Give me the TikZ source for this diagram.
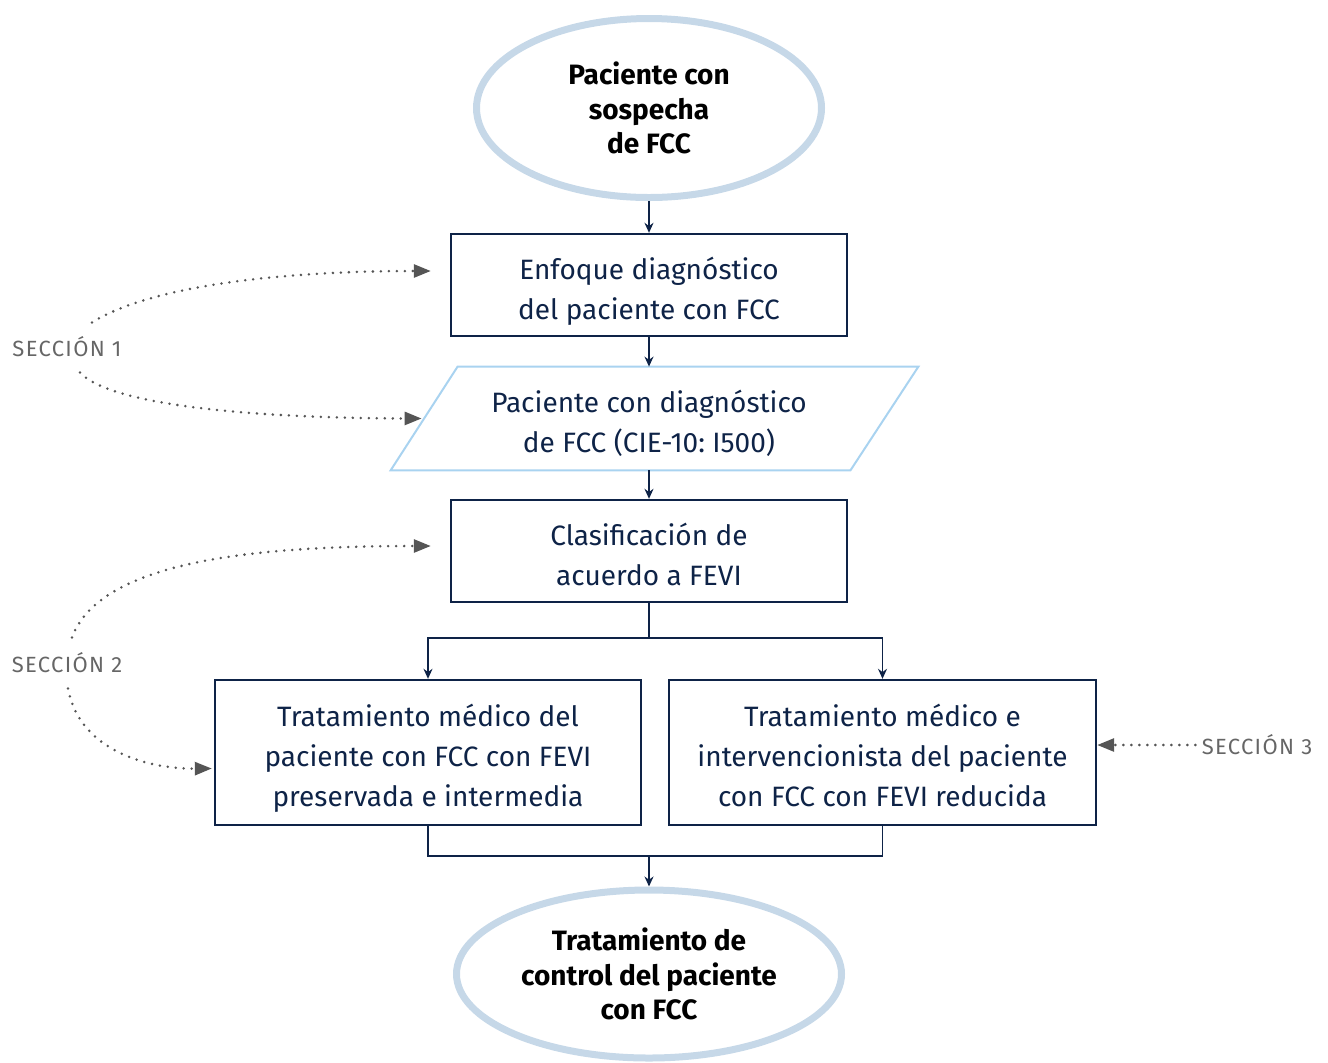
\documentclass[tikz,border=0pt]{standalone}
\usepackage{fontspec}
\setsansfont{Fira Sans}
\usetikzlibrary{shapes.geometric,arrows.meta,calc}
\frenchspacing
\definecolor{navy}{HTML}{0E2347}
\definecolor{paleblue}{HTML}{C6D8E8}
\definecolor{skyblue}{HTML}{A9D3F0}
\definecolor{dotgray}{HTML}{555555}
\definecolor{labelgray}{HTML}{666666}
\newcommand{\topstrut}{\rule{0pt}{20pt}}
\newcommand{\botstrut}{\rule[-6pt]{0pt}{0pt}}
\tikzset{
  endpoint/.style={draw=paleblue, line width=3.5pt, ellipse, inner sep=0pt, align=center,
    font=\sffamily\bfseries\fontsize{14}{17.3}\selectfont},
  procbox/.style={draw=navy, line width=1.2pt, rectangle, inner sep=0pt, align=flush center,
    text=navy, font=\sffamily\fontsize{14}{20}\selectfont,
    execute at begin node=\topstrut, execute at end node=\botstrut},
  databox/.style={rectangle, inner sep=0pt, align=flush center,
    text=navy, font=\sffamily\fontsize{14}{20}\selectfont,
    execute at begin node=\topstrut, execute at end node=\botstrut},
  flow/.style={draw=navy, line width=0.8pt, -{Stealth[length=5pt,width=4.5pt]}},
  secarrow/.style={draw=dotgray, line width=1.4pt, line cap=round, dash pattern=on 0pt off 4pt,
    -{Triangle[length=8.5pt,width=6.5pt,line cap=butt]}},
  seclabel/.style={text=labelgray, inner sep=0pt,
    font=\sffamily\fontsize{11}{13}\selectfont\addfontfeature{LetterSpace=6}}
}
\begin{document}
\begin{tikzpicture}[x=0.5pt, y=-0.5pt]
    \useasboundingbox (0,0) rectangle (1328,1062);

    % Main flow
    \node[endpoint, minimum width=172.5pt, minimum height=89.5pt] (start) at (649,108) {Paciente con\\sospecha\\de FCC};
    \node[procbox, text width=190pt, minimum width=198pt, minimum height=51pt] (enfoque) at (649,285) {Enfoque diagnóstico\\del paciente con FCC};
    \node[databox, text width=222pt, minimum width=230pt, minimum height=51.5pt] (diag) at (649,418.5) {Paciente con diagnóstico\\de FCC (CIE-10: I500)};
    \draw[skyblue, line width=1pt] ($(diag.south west)+(-28,0)$) -- ($(diag.north west)+(39,0)$)
        -- ($(diag.north east)+(39,0)$) -- ($(diag.south east)+(-29,0)$) -- cycle;
    \node[procbox, text width=190pt, minimum width=198pt, minimum height=51pt] (clasif) at (649,551) {Clasificación de\\acuerdo a FEVI};
    \node[procbox, text width=205pt, minimum width=213pt, minimum height=72.5pt] (presv) at (428,752.5) {Tratamiento médico del\\paciente con FCC con FEVI\\preservada e intermedia};
    \node[procbox, text width=205pt, minimum width=213.5pt, minimum height=72.5pt] (reduc) at (882.5,752.5) {Tratamiento médico e\\intervencionista del paciente\\con FCC con FEVI reducida};
    \node[endpoint, minimum width=192.5pt, minimum height=84pt] (control) at (649,974) {Tratamiento de\\control del paciente\\con FCC};

    \draw[flow] (start) -- (enfoque);
    \draw[flow] (enfoque) -- (diag.north -| enfoque);
    \draw[flow] (diag.south -| clasif) -- (clasif);

    % Split and merge
    \draw[navy, line width=0.8pt] (clasif.south) -- ++(0,35) coordinate (split);
    \draw[flow] (split) -| (presv.north);
    \draw[flow] (split) -| (reduc.north);
    \draw[navy, line width=0.8pt] (presv.south) -- ++(0,30) coordinate (merge) -| (reduc.south);
    \draw[flow] (merge -| control.north) -- (control.north);

    % Section labels
    \node[seclabel] (sec1) at (67,347) {SECCIÓN 1};
    \node[seclabel] (sec2) at (67,663) {SECCIÓN 2};
    \node[seclabel] (sec3) at (1257,745) {SECCIÓN 3};

    \draw[secarrow] ($(sec1.north)+(25,-14)$) .. controls (150,286) and (280,271) .. ($(enfoque.west)+(-19,-14)$);
    \draw[secarrow] ($(sec1.south)+(13,15)$) .. controls (110,405) and (250,418) .. ($(diag.west)+(3,0)$);
    \draw[secarrow] ($(sec2.north)+(5,-15)$) .. controls (100,562) and (250,546) .. ($(clasif.west)+(-19,-5)$);
    \draw[secarrow] ($(sec2.south)+(1,15)$) .. controls (80,752) and (150,769) .. ($(presv.west)+(-2,16)$);
    \draw[secarrow] (sec3.west) ++(-6,0) coordinate (s3) -- (s3 -| reduc.east);
\end{tikzpicture}
\end{document}
